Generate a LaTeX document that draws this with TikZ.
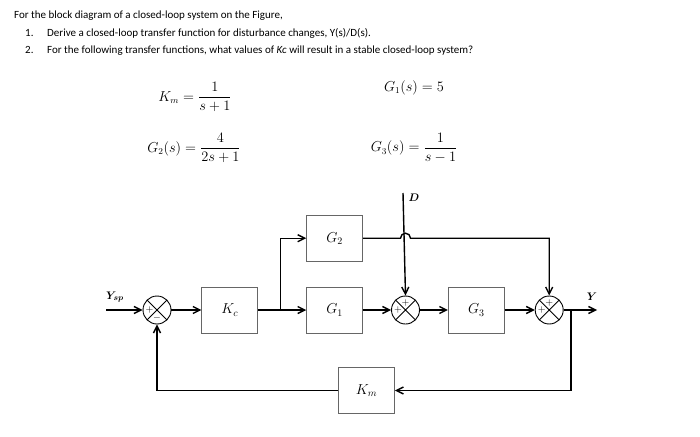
\documentclass[tikz,border=0pt]{standalone}
\usepackage{fontspec}
\setmainfont{Carlito}
\usepackage{amsmath}
\usepackage{tikz}
\usetikzlibrary{arrows.meta,positioning}

\begin{document}
\begin{tikzpicture}[
	x=1pt, y=1pt,
	>={Straight Barb[length=7pt,width=7pt]},
	node distance=28pt,
	bloco/.style={rectangle, draw=black!60, line width=0.8pt, minimum width=56pt, minimum height=46pt, font=\fontsize{14}{16}\selectfont},
	soma/.style={circle, draw=black, line width=0.9pt, minimum size=28pt, inner sep=0pt, path picture={\draw[line width=0.9pt] (path picture bounding box.south west) -- (path picture bounding box.north east) (path picture bounding box.north west) -- (path picture bounding box.south east);}},
	sinal/.style={font=\fontsize{10}{11}\selectfont, inner sep=0pt},
	seta/.style={->, line width=1.4pt},
	rotulo/.style={font=\fontsize{11}{13}\selectfont\boldmath, inner sep=1pt},
	texto/.style={anchor=base west, inner sep=0pt, font=\fontsize{11}{13}\selectfont},
	eq/.style={font=\fontsize{13.5}{16}\selectfont, inner sep=0pt},
]
\useasboundingbox (0,0) rectangle (700,-436);

% enunciado
\node[texto] (t1) at (14,-19) {For the block diagram of a closed-loop system on the Figure,};
\node[texto] (n1) at (25,-36.5) {1.};
\node[texto] (t2) at (47,-36.5) {Derive a closed-loop transfer function for disturbance changes, Y(s)/D(s).};
\node[texto] (n2) at (25,-53.5) {2.};
\node[texto] (t3) at (47,-53.5) {For the following transfer functions, what values of \textit{Kc} will result in a stable closed-loop system?};

\node[eq] (eqkm) at (195,-97) {$K_m = \dfrac{1}{s+1}$};
\node[eq] (eqg1) at (414,-88) {$G_1(s) = 5$};
\node[eq] (eqg2) at (194,-148) {$G_2(s) = \dfrac{4}{2s+1}$};
\node[eq] (eqg3) at (414,-148) {$G_3(s) = \dfrac{1}{s-1}$};

% diagrama
\node[soma]  (s1) at (157,-310) {};
\node[bloco] (kc) [right=30pt of s1] {$K_c$};
\node[bloco] (g1) [right=48pt of kc] {$G_1$};
\node[bloco] (g2) [above=25pt of g1] {$G_2$};
\node[soma]  (s2) [right=of g1] {};
\node[bloco] (g3) [right=of s2] {$G_3$};
\node[soma]  (s3) [right=30pt of g3] {};
\node[bloco] (km) at (366.5,-390.5) {$K_m$};

\node[sinal] (s1a) at ([xshift=-7.5pt]s1.center) {$+$};
\node[sinal] (s1b) at ([yshift=-7.5pt]s1.center) {$-$};
\node[sinal] (s2a) at ([xshift=-7.5pt]s2.center) {$+$};
\node[sinal] (s2b) at ([yshift=7.5pt]s2.center) {$+$};
\node[sinal] (s3a) at ([xshift=-7.5pt]s3.center) {$+$};
\node[sinal] (s3b) at ([yshift=7.5pt]s3.center) {$+$};

\coordinate (ent) at (106,-310);
\coordinate (ramo) at ([xshift=22pt]kc.east);
\coordinate (dist) at (403,-193);
\coordinate (cruz) at (g2.east -| s2.north);
\coordinate (ramo2) at (571,-310);
\coordinate (saida) at (597,-310);

\node[rotulo] (ysp) at (115,-297) {$Y_{sp}$};
\node[rotulo] (dl) at (414,-198) {$D$};
\node[rotulo] (yl) at (592,-297) {$Y$};

\draw[seta] (ent) -- (s1);
\draw[seta] (s1) -- (kc);
\draw[seta] (kc) -- (g1);
\draw[seta] (ramo) |- (g2);
\draw[seta] (g1) -- (s2);
\draw[seta] (dist) -- (s2.north);
\draw[seta] (g2.east) -- ([xshift=-5pt]cruz) arc[start angle=180, end angle=0, radius=5pt] -- (g2.east -| s3.north) -- (s3.north);
\draw[seta] (s2) -- (g3);
\draw[seta] (g3) -- (s3);
\draw[seta] (s3) -- (saida);
\draw[seta] (ramo2) |- (km);
\draw[seta] (km) -| (s1.south);
\end{tikzpicture}
\end{document}
